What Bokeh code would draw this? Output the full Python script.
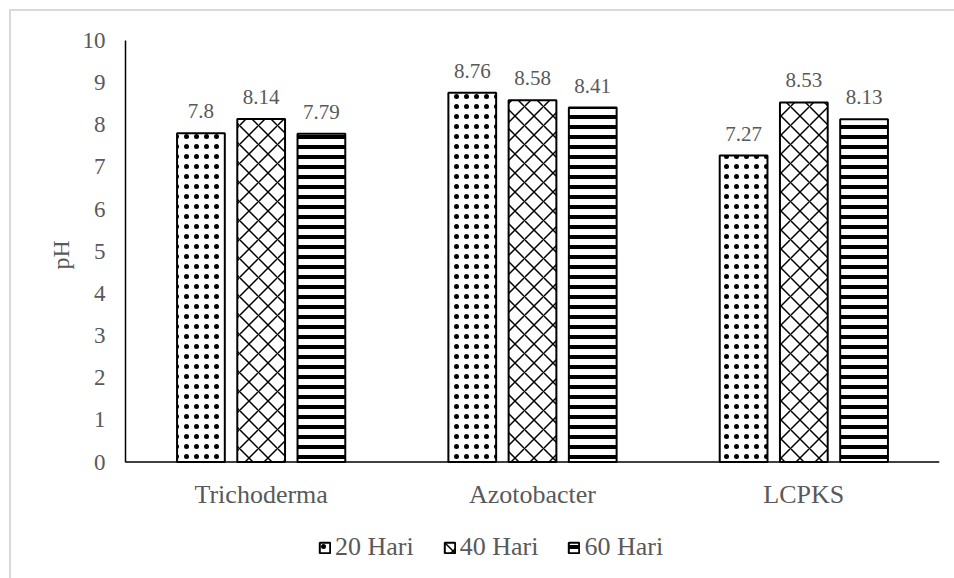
from bokeh.plotting import figure
from bokeh.models import ColumnDataSource, Range1d, FactorRange, FixedTicker, Legend, LegendItem, Span, Title
from bokeh.transform import dodge
from bokeh.core.properties import value
from bokeh.embed import file_html
from bokeh.resources import INLINE

categories = ["Trichoderma", "Azotobacter", "LCPKS"]
series_names = ["20 Hari", "40 Hari", "60 Hari"]
hari20 = [7.8, 8.76, 7.27]
hari40 = [8.14, 8.58, 8.53]
hari60 = [7.79, 8.41, 8.13]
y_ticks = [0, 1, 2, 3, 4, 5, 6, 7, 8, 9, 10]

FONT = "Liberation Serif"
GRAY = "#595959"

src = ColumnDataSource(dict(
    cat=categories,
    h20=hari20, h40=hari40, h60=hari60,
    l20=[str(v) for v in hari20],
    l40=[str(v) for v in hari40],
    l60=[str(v) for v in hari60],
    zero=[0, 0, 0],
))

# frame runs from the plot top (y=10) to the page bottom; value 0 sits 118px above that
px_per_unit = 42.0
p = figure(width=945, height=569,
           x_range=FactorRange(*categories), y_range=Range1d(-118 / px_per_unit, 10),
           x_axis_location=None,
           output_backend="svg", toolbar_location=None,
           min_border_left=114, min_border_right=17,
           min_border_top=29, min_border_bottom=0)
p.styles = {"border-top": "2px solid #d9d9d9", "border-left": "2px solid #d9d9d9",
            "box-sizing": "border-box", "margin-left": "9px", "margin-top": "9px"}
p.outline_line_color = None
p.xgrid.grid_line_color = None
p.ygrid.grid_line_color = None

offsets = [-0.222, 0.0, 0.222]
bw = 0.176
patterns = [dict(hatch_pattern="dot", hatch_scale=10, hatch_weight=1.5),
            dict(hatch_pattern="diagonal_cross", hatch_scale=19, hatch_weight=1.5),
            dict(hatch_pattern="horizontal_line", hatch_scale=10, hatch_weight=4)]
cols = ["h20", "h40", "h60"]
lcols = ["l20", "l40", "l60"]
renderers = []
for off, pat, c, lc in zip(offsets, patterns, cols, lcols):
    r = p.vbar(x=dodge("cat", off, range=p.x_range), top=c, width=bw, source=src,
               fill_color="white", line_color="black", line_width=2,
               hatch_color="black", **pat)
    renderers.append(r)
    p.text(x=dodge("cat", off, range=p.x_range), y=c, text=lc, source=src,
           text_align="center", text_baseline="bottom", y_offset=-15,
           text_font=value(FONT), text_font_size="21px", text_color=GRAY)

# baseline (category axis line) and category labels
p.add_layout(Span(location=0, dimension="width", line_color="black", line_width=1.5))
p.text(x="cat", y="zero", text="cat", source=src, text_align="center",
       text_baseline="middle", y_offset=32, text_font=value(FONT),
       text_font_size="26px", text_color=GRAY)

legend = Legend(items=[LegendItem(label=n, renderers=[r]) for n, r in zip(series_names, renderers)],
                orientation="horizontal", location=(193, 18),
                border_line_color=None, background_fill_alpha=0,
                padding=0, margin=0, spacing=29, glyph_width=13, glyph_height=13,
                label_standoff=4, label_text_font=FONT, label_text_font_size="26px",
                label_text_color=GRAY)
p.add_layout(legend, "center")

p.yaxis.ticker = FixedTicker(ticks=y_ticks)
p.yaxis.bounds = (0, 10)
p.yaxis.major_tick_line_color = None
p.yaxis.minor_tick_line_color = None
p.yaxis.axis_line_color = "black"
p.yaxis.axis_line_width = 1.5
p.yaxis.major_label_text_font = FONT
p.yaxis.major_label_text_color = GRAY
p.yaxis.major_label_text_font_size = "23px"
p.yaxis.major_label_standoff = 14

# y-axis title, placed beside the value scale (not the whole frame)
ytitle = Title(text="pH", align="left", offset=311, standoff=12,
               text_font=FONT, text_font_style="normal", text_font_size="24px",
               text_color=GRAY)
p.add_layout(ytitle, "left")

open("out.html", "w").write(file_html(p, INLINE))
